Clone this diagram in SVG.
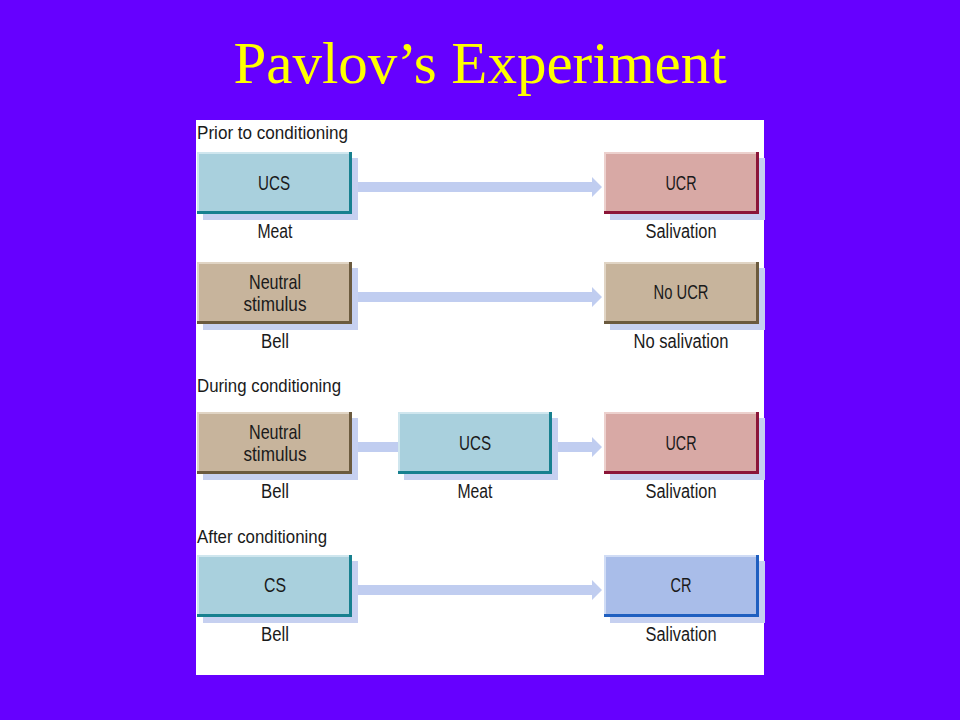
<svg xmlns="http://www.w3.org/2000/svg" width="960" height="720" viewBox="0 0 960 720">
<style>
.bg{fill:#6600ff}
.panel{fill:#ffffff}
.title{font-family:"Liberation Serif","Times New Roman",serif;font-size:59px;fill:#ffff00}
.hd{font-family:"Liberation Sans",Arial,sans-serif;font-size:19px;fill:#1a1a1a}
.t{font-family:"Liberation Sans",Arial,sans-serif;font-size:20px;fill:#1a1a1a;text-anchor:middle}
.b{font-size:21px}
.sh{fill:#c6d0f0}
.f-ucs{fill:#a9d0dd}.h-ucs{fill:none;stroke:#cfe6ee;stroke-width:2}.e-ucs{fill:none;stroke:#17808f;stroke-width:3}
.f-ucr{fill:#d8a9a5}.h-ucr{fill:none;stroke:#ecd0cd;stroke-width:2}.e-ucr{fill:none;stroke:#8b1538;stroke-width:3}
.f-ns{fill:#c7b49c}.h-ns{fill:none;stroke:#e0d4c4;stroke-width:2}.e-ns{fill:none;stroke:#6b5a3e;stroke-width:3}
.f-cr{fill:#a9bde9}.h-cr{fill:none;stroke:#d0dcf5;stroke-width:2}.e-cr{fill:none;stroke:#1f5fc0;stroke-width:3}
.arr{fill:#c0cdf0}
</style>
<rect class="bg" x="0" y="0" width="960" height="720"/>
<text class="title" x="480" y="83" text-anchor="middle">Pavlov’s Experiment</text>
<rect class="panel" x="196" y="120" width="568" height="555"/>

<g id="headings">
<text class="hd" x="197" y="139" textLength="151" lengthAdjust="spacingAndGlyphs">Prior to conditioning</text>
<text class="hd" x="197" y="392" textLength="144" lengthAdjust="spacingAndGlyphs">During conditioning</text>
<text class="hd" x="197" y="543" textLength="130" lengthAdjust="spacingAndGlyphs">After conditioning</text>
</g>

<g id="connectors">
<polygon class="arr" points="358,182 592,182 592,177 602,187 592,197 592,192 358,192"/>
<polygon class="arr" points="358,292 592,292 592,287 602,297 592,307 592,302 358,302"/>
<rect class="arr" x="358" y="442" width="42" height="10"/>
<polygon class="arr" points="558,442 592,442 592,437 602,447 592,457 592,452 558,452"/>
<polygon class="arr" points="358,585 592,585 592,580 602,590 592,600 592,595 358,595"/>
</g>

<g id="row1-ucs">
<rect class="sh" x="203" y="158" width="155" height="62"/>
<rect class="f-ucs" x="197" y="152" width="155" height="62"/>
<path class="h-ucs" d="M198,213 V153 H351"/>
<path class="e-ucs" d="M197,212.5 H350.5 V152"/>
<text class="t b" x="274" y="190" textLength="32" lengthAdjust="spacingAndGlyphs">UCS</text>
<text class="t" x="275" y="238" textLength="35" lengthAdjust="spacingAndGlyphs">Meat</text>
</g>

<g id="row1-ucr">
<rect class="sh" x="610" y="158" width="155" height="62"/>
<rect class="f-ucr" x="604" y="152" width="155" height="62"/>
<path class="h-ucr" d="M605,213 V153 H758"/>
<path class="e-ucr" d="M604,212.5 H757.5 V152"/>
<text class="t b" x="681" y="190" textLength="31" lengthAdjust="spacingAndGlyphs">UCR</text>
<text class="t" x="681" y="238" textLength="71" lengthAdjust="spacingAndGlyphs">Salivation</text>
</g>

<g id="row2-neutral">
<rect class="sh" x="203" y="268" width="155" height="62"/>
<rect class="f-ns" x="197" y="262" width="155" height="62"/>
<path class="h-ns" d="M198,323 V263 H351"/>
<path class="e-ns" d="M197,322.5 H350.5 V262"/>
<text class="t b" x="275" y="289" textLength="52" lengthAdjust="spacingAndGlyphs">Neutral</text>
<text class="t b" x="275" y="311" textLength="63" lengthAdjust="spacingAndGlyphs">stimulus</text>
<text class="t" x="275" y="348" textLength="28" lengthAdjust="spacingAndGlyphs">Bell</text>
</g>

<g id="row2-noucr">
<rect class="sh" x="610" y="268" width="155" height="62"/>
<rect class="f-ns" x="604" y="262" width="155" height="62"/>
<path class="h-ns" d="M605,323 V263 H758"/>
<path class="e-ns" d="M604,322.5 H757.5 V262"/>
<text class="t b" x="681" y="299" textLength="55" lengthAdjust="spacingAndGlyphs">No UCR</text>
<text class="t" x="681" y="348" textLength="95" lengthAdjust="spacingAndGlyphs">No salivation</text>
</g>

<g id="row3-neutral">
<rect class="sh" x="203" y="418" width="155" height="62"/>
<rect class="f-ns" x="197" y="412" width="155" height="62"/>
<path class="h-ns" d="M198,473 V413 H351"/>
<path class="e-ns" d="M197,472.5 H350.5 V412"/>
<text class="t b" x="275" y="439" textLength="52" lengthAdjust="spacingAndGlyphs">Neutral</text>
<text class="t b" x="275" y="461" textLength="63" lengthAdjust="spacingAndGlyphs">stimulus</text>
<text class="t" x="275" y="498" textLength="28" lengthAdjust="spacingAndGlyphs">Bell</text>
</g>

<g id="row3-ucs">
<rect class="sh" x="404" y="418" width="154" height="62"/>
<rect class="f-ucs" x="398" y="412" width="154" height="62"/>
<path class="h-ucs" d="M399,473 V413 H551"/>
<path class="e-ucs" d="M398,472.5 H550.5 V412"/>
<text class="t b" x="475" y="450" textLength="32" lengthAdjust="spacingAndGlyphs">UCS</text>
<text class="t" x="475" y="498" textLength="35" lengthAdjust="spacingAndGlyphs">Meat</text>
</g>

<g id="row3-ucr">
<rect class="sh" x="610" y="418" width="155" height="62"/>
<rect class="f-ucr" x="604" y="412" width="155" height="62"/>
<path class="h-ucr" d="M605,473 V413 H758"/>
<path class="e-ucr" d="M604,472.5 H757.5 V412"/>
<text class="t b" x="681" y="450" textLength="31" lengthAdjust="spacingAndGlyphs">UCR</text>
<text class="t" x="681" y="498" textLength="71" lengthAdjust="spacingAndGlyphs">Salivation</text>
</g>

<g id="row4-cs">
<rect class="sh" x="203" y="561" width="155" height="62"/>
<rect class="f-ucs" x="197" y="555" width="155" height="62"/>
<path class="h-ucs" d="M198,616 V556 H351"/>
<path class="e-ucs" d="M197,615.5 H350.5 V555"/>
<text class="t b" x="275" y="592" textLength="22" lengthAdjust="spacingAndGlyphs">CS</text>
<text class="t" x="275" y="641" textLength="28" lengthAdjust="spacingAndGlyphs">Bell</text>
</g>

<g id="row4-cr">
<rect class="sh" x="610" y="561" width="155" height="62"/>
<rect class="f-cr" x="604" y="555" width="155" height="62"/>
<path class="h-cr" d="M605,616 V556 H758"/>
<path class="e-cr" d="M604,615.5 H757.5 V555"/>
<text class="t b" x="681" y="592" textLength="21" lengthAdjust="spacingAndGlyphs">CR</text>
<text class="t" x="681" y="641" textLength="71" lengthAdjust="spacingAndGlyphs">Salivation</text>
</g>
</svg>
